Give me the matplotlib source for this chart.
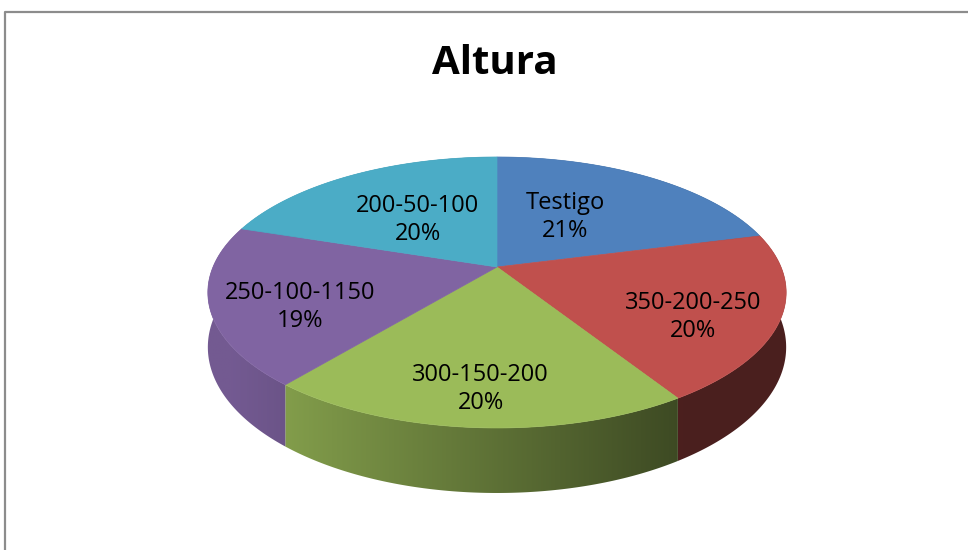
import numpy as np
import matplotlib.pyplot as plt
from matplotlib.patches import Polygon
import matplotlib.colors as mcolors

# data
labels = ["Testigo", "350-200-250", "300-150-200", "250-100-1150", "200-50-100"]
values = [21, 20, 20, 19, 20]
colors = ["#4f81bd", "#c0504d", "#9bbb59", "#8064a2", "#4bacc6"]
title = "Altura"

# label placement: radius fraction and angle shift (deg) from the slice middle
label_r = [0.51, 0.73, 0.78, 0.71, 0.51]
label_shift = [-7, 6, 0, -6, 0]

# pie geometry in pixels (perspective tilted disk)
cx, cy = 497, 267
B, A = 284, 130.7
k = 0.188
H = 52.8


def proj(theta, r=1.0, z=0.0):
    u = r * np.sin(theta)
    v = -r * np.cos(theta)
    d = 1 - k * v
    return cx + B * u / d, cy + A * v / d + z * H / d


def side_factor(x):
    u = (x - cx) / B
    return np.clip(0.6 - 0.32 * u, 0.39, 0.9)


fig = plt.figure(figsize=(9.68, 5.5), dpi=100)
ax = fig.add_axes([0, 0, 1, 1])
ax.set_xlim(0, 968)
ax.set_ylim(550, 0)
ax.axis("off")

# chart frame
ax.plot([5, 5, 968], [550, 12, 12], color="#8c8c8c", lw=1.6)

fracs = np.array(values) / np.sum(values)
edges = np.concatenate([[0], np.cumsum(fracs)]) * 2 * np.pi

# side walls with a horizontal shading gradient
x0, x1 = cx - B * 1.05, cx + B * 1.05
y0, y1 = cy - A * 1.0, cy + A / (1 - k) + H / (1 - k) + 5
xs_img = np.linspace(x0, x1, 600)
for i in range(len(values)):
    t = np.linspace(edges[i], edges[i + 1], 200)
    tx, ty = proj(t)
    bx, by = proj(t[::-1], z=1)
    pts = list(zip(tx, ty)) + list(zip(bx, by))
    poly = Polygon(pts, closed=True, facecolor="none", edgecolor="none")
    ax.add_patch(poly)
    rgb = np.array(mcolors.to_rgb(colors[i]))
    row = np.clip(side_factor(xs_img)[:, None] * rgb[None, :], 0, 1)
    img = np.repeat(row[None, :, :], 2, axis=0)
    im = ax.imshow(img, extent=(x0, x1, y1, y0), aspect="auto",
                   interpolation="bilinear", zorder=1)
    im.set_clip_path(poly)

# top faces
for i in range(len(values)):
    t = np.linspace(edges[i], edges[i + 1], 120)
    xs, ys = proj(t)
    pts = [(cx, cy)] + list(zip(xs, ys))
    ax.add_patch(Polygon(pts, closed=True, facecolor=colors[i],
                         edgecolor=colors[i], lw=0.5, zorder=2))

# data labels
for i in range(len(values)):
    m = (edges[i] + edges[i + 1]) / 2 + np.deg2rad(label_shift[i])
    lx, ly = proj(m, r=label_r[i])
    ax.text(lx, ly + 3, f"{labels[i]}\n{values[i]}%", ha="center", va="center",
            fontsize=17, family="Open Sans", linespacing=1.25, color="black",
            zorder=3)

ax.text(495, 64, title, ha="center", va="center", fontsize=29,
        fontweight="bold", family="Open Sans")

ax.set_xlim(0, 968)
ax.set_ylim(550, 0)
fig.savefig("out.png", dpi=100)
